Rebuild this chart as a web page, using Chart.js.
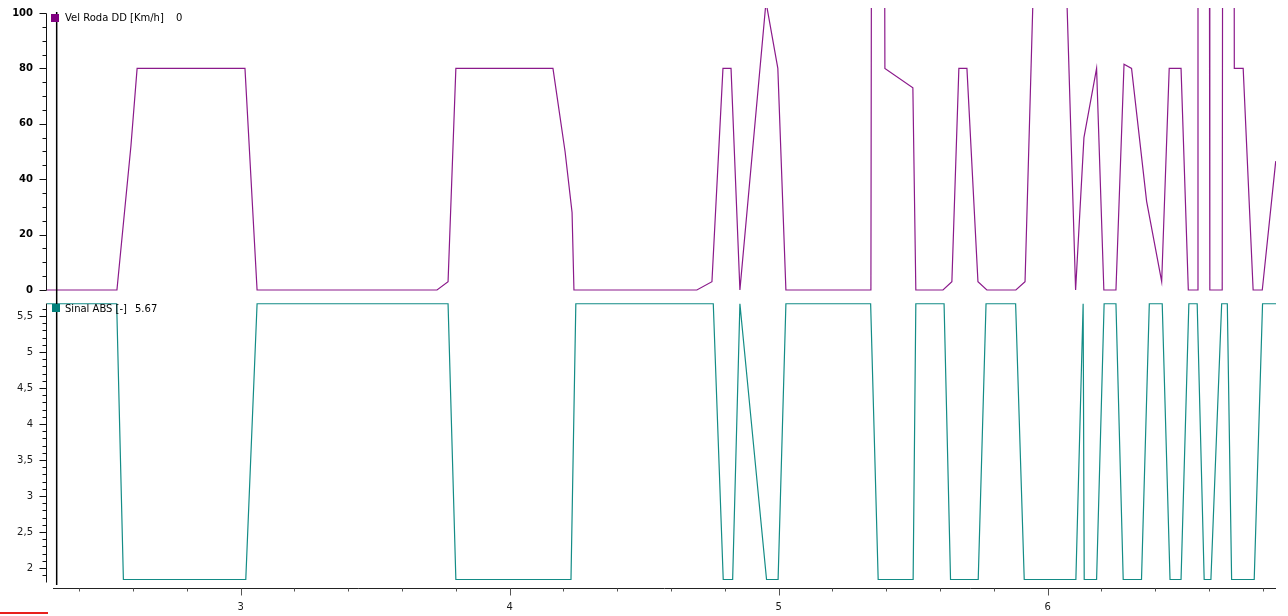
<!DOCTYPE html>
<html>
<head>
<meta charset="utf-8">
<title>Vel Roda DD / Sinal ABS</title>
<script src="https://cdn.jsdelivr.net/npm/chart.js@4.4.0/dist/chart.umd.min.js"></script>
<style>
  html, body { margin: 0; padding: 0; background: #fff; }
  #wrap { position: relative; width: 1288px; height: 616px; overflow: hidden; }
  .leg { position: absolute; font: 10px "DejaVu Sans", sans-serif; color: #000; line-height: 12px; white-space: nowrap; }
  .sq { position: absolute; width: 8px; height: 8px; }
  #redmark { position: absolute; left: 0; top: 612px; width: 48px; height: 2px; background: #e8201c; }
</style>
</head>
<body>
<div id="wrap">
  <canvas id="chart" width="1288" height="616"></canvas>

  <div class="sq" style="left:51px; top:14px; background:#800080"></div>
  <div class="leg" style="left:65px; top:12px">Vel Roda DD [Km/h]</div>
  <div class="leg" style="left:176px; top:12px">0</div>

  <div class="sq" style="left:52px; top:304px; background:#007f7a"></div>
  <div class="leg" style="left:65px; top:303px">Sinal ABS [-]</div>
  <div class="leg" style="left:135px; top:303px">5.67</div>

  <div id="redmark"></div>
</div>

<script>
// tempo [s] e velocidade da roda [km/h]
const velTime = [2.280, 2.540, 2.592, 2.615, 3.016, 3.061, 3.730, 3.771, 3.800, 4.161,
  4.206, 4.232, 4.239, 4.696, 4.752, 4.793, 4.823, 4.856, 4.953, 4.997,
  5.027, 5.343, 5.347, 5.391, 5.395, 5.499, 5.510, 5.611, 5.644, 5.670,
  5.700, 5.741, 5.774, 5.882, 5.916, 5.947, 6.070, 6.104, 6.135, 6.182,
  6.209, 6.254, 6.284, 6.312, 6.368, 6.424, 6.452, 6.496, 6.523, 6.556,
  6.559, 6.600, 6.603, 6.649, 6.652, 6.692, 6.694, 6.727, 6.764, 6.798, 6.848];
const velValue = [0, 0, 52, 80, 80, 0, 0, 3, 80, 80,
  50, 28, 0, 0, 3, 80, 80, 0, 104, 80,
  0, 0, 250, 250, 80, 73, 0, 0, 3, 80,
  80, 3, 0, 0, 3, 110, 110, 0, 55, 80,
  0, 0, 81.5, 80, 32, 3, 80, 80, 0, 0,
  250, 250, 0, 0, 250, 250, 80, 80, 0, 0, 46.5];

// tempo [s] e sinal do ABS [-]
const absTime = [2.280, 2.539, 2.564, 3.019, 3.061, 3.771, 3.800, 4.228, 4.246, 4.757,
  4.794, 4.829, 4.856, 4.955, 4.998, 5.027, 5.342, 5.370, 5.500, 5.510,
  5.615, 5.639, 5.742, 5.771, 5.881, 5.913, 6.105, 6.132, 6.136, 6.182,
  6.210, 6.254, 6.281, 6.349, 6.378, 6.426, 6.455, 6.496, 6.525, 6.556,
  6.582, 6.607, 6.647, 6.668, 6.684, 6.768, 6.799, 6.849];
const absValue = [5.67, 5.67, 1.84, 1.84, 5.67, 5.67, 1.84, 1.84, 5.67, 5.67,
  1.84, 1.84, 5.67, 1.84, 1.84, 5.67, 5.67, 1.84, 1.84, 5.67,
  5.67, 1.84, 1.84, 5.67, 5.67, 1.84, 1.84, 5.67, 1.84, 1.84,
  5.67, 5.67, 1.84, 1.84, 5.67, 5.67, 1.84, 1.84, 5.67, 5.67,
  1.84, 1.84, 5.67, 5.67, 1.84, 1.84, 5.67, 5.67];

const cursorTime = 2.316;

const toPoints = (t, v) => t.map((x, i) => ({ x: x, y: v[i] }));

// sem margem extra das etiquetas
const noPad = s => { s.paddingTop = 0; s.paddingBottom = 0; s.paddingLeft = 0; s.paddingRight = 0; };

// eixos com traços menores + cursor
const axisMarks = {
  id: 'axisMarks',
  afterDraw(chart) {
    const { ctx, chartArea, scales } = chart;
    const x = scales.x, yTop = scales.yTop, yBot = scales.yBot;
    const ax = Math.round(chartArea.left) - 0.5;
    const px = v => Math.round(v) + 0.5;
    ctx.save();
    ctx.lineWidth = 1;
    ctx.strokeStyle = '#111';

    // eixo superior 0..100
    ctx.beginPath();
    ctx.moveTo(ax, px(yTop.getPixelForValue(100)));
    ctx.lineTo(ax, px(yTop.getPixelForValue(0)));
    for (let k = 0; k <= 20; k++) {
      const y = px(yTop.getPixelForValue(k * 5));
      ctx.moveTo(ax, y);
      ctx.lineTo(ax - (k % 4 === 0 ? 7 : 4), y);
    }
    ctx.stroke();

    // eixo inferior
    ctx.beginPath();
    ctx.moveTo(ax, px(yBot.getPixelForValue(5.68)));
    ctx.lineTo(ax, px(yBot.getPixelForValue(1.8)));
    for (let k = 19; k <= 56; k++) {
      const y = px(yBot.getPixelForValue(k / 10));
      ctx.moveTo(ax, y);
      ctx.lineTo(ax - (k % 5 === 0 ? 7 : 4), y);
    }
    ctx.stroke();

    // eixo x
    const ay = Math.round(chartArea.bottom) + 0.5;
    ctx.strokeStyle = '#222';
    ctx.beginPath();
    ctx.moveTo(chartArea.left + 6, ay);
    ctx.lineTo(chartArea.right, ay);
    ctx.stroke();
    ctx.strokeStyle = '#555';
    ctx.beginPath();
    for (let k = 12; k <= 34; k++) {
      const xx = px(x.getPixelForValue(k / 5));
      ctx.moveTo(xx, ay);
      ctx.lineTo(xx, ay + (k % 5 === 0 ? 7 : 3));
    }
    ctx.stroke();

    // cursor
    const cx = x.getPixelForValue(cursorTime);
    ctx.strokeStyle = '#000';
    ctx.lineWidth = 1.5;
    ctx.beginPath();
    ctx.moveTo(cx, yTop.getPixelForValue(100) - 1);
    ctx.lineTo(cx, chartArea.bottom - 3);
    ctx.stroke();
    ctx.restore();
  }
};

new Chart(document.getElementById('chart'), {
  type: 'line',
  data: {
    datasets: [
      {
        label: 'Vel Roda DD [Km/h]',
        data: toPoints(velTime, velValue),
        yAxisID: 'yTop',
        borderColor: '#8b1a8b',
        borderWidth: 1.2,
        pointRadius: 0,
        tension: 0
      },
      {
        label: 'Sinal ABS [-]',
        data: toPoints(absTime, absValue),
        yAxisID: 'yBot',
        borderColor: '#138c86',
        borderWidth: 1.2,
        pointRadius: 0,
        tension: 0
      }
    ]
  },
  options: {
    responsive: false,
    animation: false,
    devicePixelRatio: 1,
    layout: { padding: { top: 8, right: 12, left: 0, bottom: 0 } },
    plugins: { legend: { display: false }, tooltip: { enabled: false } },
    scales: {
      x: {
        type: 'linear',
        min: 2.28,
        max: 6.849,
        grid: { display: false, drawTicks: false },
        border: { display: false },
        ticks: {
          stepSize: 1,
          includeBounds: false,
          padding: 13,
          color: '#1a1a1a',
          font: { family: 'DejaVu Sans', size: 10 }
        },
        afterFit: s => { s.height = 28; noPad(s); }
      },
      yBot: {
        type: 'linear',
        position: 'left',
        stack: 'painel',
        stackWeight: 291,
        min: 1.722,
        max: 5.764,
        grid: { display: false, drawTicks: false },
        border: { display: false },
        ticks: {
          stepSize: 0.5,
          includeBounds: false,
          padding: 14,
          color: '#1a1a1a',
          font: { family: 'DejaVu Sans', size: 10 },
          callback: v => String(v).replace('.', ',')
        },
        afterFit: s => { s.width = 47; noPad(s); }
      },
      yTop: {
        type: 'linear',
        position: 'left',
        stack: 'painel',
        stackWeight: 289,
        min: -2.53,
        max: 101.8,
        grid: { display: false, drawTicks: false },
        border: { display: false },
        ticks: {
          stepSize: 20,
          includeBounds: false,
          padding: 14,
          color: '#000',
          font: { family: 'DejaVu Sans', size: 10, weight: 'bold' }
        },
        afterFit: s => { s.width = 47; noPad(s); }
      }
    }
  },
  plugins: [axisMarks]
});
</script>
</body>
</html>
